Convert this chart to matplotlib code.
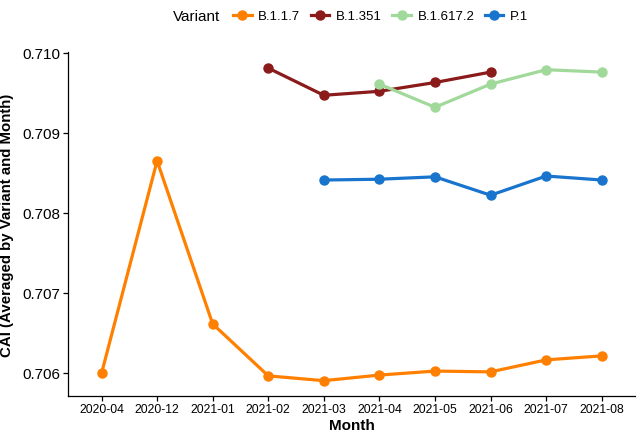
import matplotlib.pyplot as plt
from matplotlib.lines import Line2D
import numpy as np

plt.rcParams['font.family'] = ['Liberation Sans', 'DejaVu Sans']

months = ['2020-04', '2020-12', '2021-01', '2021-02', '2021-03',
          '2021-04', '2021-05', '2021-06', '2021-07', '2021-08']

# CAI per variant, None where the variant has no data that month
b117 = [0.70599, 0.70865, 0.70661, 0.70596, 0.70590, 0.70597, 0.70602, 0.70601, 0.70616, 0.70621]
b1351 = [None, None, None, 0.70981, 0.70947, 0.70952, 0.70963, 0.70976, None, None]
b16172 = [None, None, None, None, None, 0.70961, 0.70932, 0.70961, 0.70979, 0.70976]
p1 = [None, None, None, None, 0.70841, 0.70842, 0.70845, 0.70822, 0.70846, 0.70841]

variants = ['B.1.1.7', 'B.1.351', 'B.1.617.2', 'P.1']
series = [b117, b1351, b16172, p1]
colors = ['#FF8000', '#8B1A1A', '#A1D99B', '#1874CD']

fig = plt.figure(figsize=(6.37, 4.39), dpi=100)
ax = fig.add_axes([0.107, 0.096, 0.89, 0.783])

x = np.arange(len(months))
for name, vals, c in zip(variants, series, colors):
    xs = [xi for xi, v in zip(x, vals) if v is not None]
    ys = [v for v in vals if v is not None]
    ax.plot(xs, ys, color=c, lw=2.3, marker='o', markersize=6.5, label=name, solid_capstyle='round')

ax.set_xlim(-0.6, len(months) - 0.4)
ax.set_ylim(0.70571, 0.71001)
ax.set_xticks(x)
ax.set_xticklabels(months, fontsize=8.8)
ax.set_yticks([0.706, 0.707, 0.708, 0.709, 0.710])
ax.set_yticklabels(['0.706', '0.707', '0.708', '0.709', '0.710'], fontsize=11)
ax.tick_params(length=3.5, width=0.9, pad=2, colors='black')
for s in ['top', 'right']:
    ax.spines[s].set_visible(False)
for s in ['left', 'bottom']:
    ax.spines[s].set_linewidth(0.9)

ax.set_xlabel('Month', fontsize=11, fontweight='bold', labelpad=2)
ax.set_ylabel('CAI (Averaged by Variant and Month)', fontsize=10.8, fontweight='bold', labelpad=6)

handles = [Line2D([], [], color=c, lw=2.3, marker='o', markersize=6.5) for c in colors]
fig.legend(handles, variants, loc='center left', bbox_to_anchor=(0.366, 0.961), ncol=4,
           frameon=False, fontsize=9.5, handlelength=1.4, handletextpad=0.5, columnspacing=0.8,
           borderaxespad=0, borderpad=0)
fig.text(0.272, 0.961, 'Variant', fontsize=11, ha='left', va='center')

fig.savefig('out.png', dpi=100)
